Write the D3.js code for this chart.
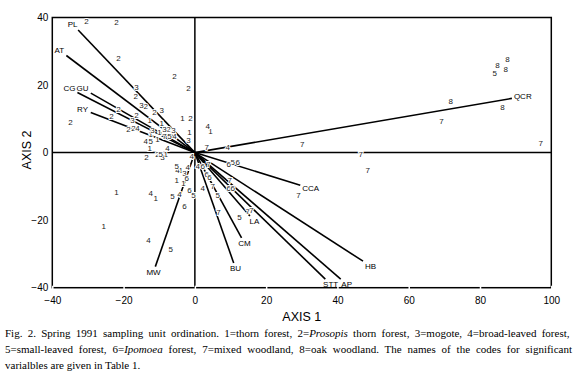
<!DOCTYPE html>
<html>
<head>
<meta charset="utf-8">
<script src="https://cdn.jsdelivr.net/npm/d3@7"></script>
<style>
body { margin: 0; background: #fff; }
svg { display: block; }
</style>
</head>
<body>
<svg id="drawing_region"></svg>
<script>
// sampling units: vegetation type code and ordination scores
const siteCode = [
  1,1,1,1,1,1,1,1,1,1,1,1,1,1,1,1,
  2,2,2,2,2,2,2,2,2,2,2,2,2,2,2,2,2,2,
  3,3,3,3,3,3,3,3,3,3,
  4,4,4,4,4,4,4,4,4,4,4,4,4,4,
  5,5,5,5,5,5,5,5,5,5,5,
  6,6,6,6,6,6,6,6,6,6,
  7,7,7,7,7,7,7,7,7,7,7,7,7,7,
  8,8,8,8,8
];
const siteAxis1 = [
  -12.7,-9.3,-3.5,-9.9,-12.4,-1.5,-10.5,-12.7,-8.2,-4.0,-5.1,-3.2,-22.0,-11.0,-25.6,4.4,
  -30.4,-22.0,-21.4,-5.7,-1.8,-16.6,-13.8,-11.3,-16.4,-23.4,-34.9,-1.2,-18.6,-17.2,-13.6,-10.5,-7.4,-21.4,
  -16.4,-15.0,-9.3,-17.5,-11.9,-8.5,-6.0,-1.8,-9.1,-2.9,
  -16.1,-5.7,-13.8,-7.7,3.6,9.2,-2.0,-4.9,0.8,2.2,-12.4,-13.0,-4.3,-0.9,
  -12.4,-7.1,-9.6,-5.1,-6.3,-0.4,-6.8,6.4,12.5,10.6,84.1,
  -1.5,-2.9,2.2,3.3,4.1,9.5,12.0,9.5,10.6,-2.3,
  3.3,3.8,5.0,9.8,6.6,14.8,15.9,29.1,30.1,46.5,48.5,69.2,97.0,-8.5,
  87.7,84.9,87.2,71.8,86.3
];
const siteAxis2 = [
  9.5,8.7,10.1,6.0,5.4,6.0,3.9,1.3,-0.5,-5.2,-8.2,-9.1,-11.8,-13.5,-21.8,6.3,
  38.8,38.5,27.9,22.5,19.0,16.7,13.7,11.9,11.0,10.7,8.9,10.1,6.9,7.2,-1.4,-0.5,6.9,12.8,
  19.3,14.0,12.5,9.5,6.6,6.9,6.6,3.6,-1.4,-6.2,
  7.2,4.8,3.3,1.3,7.8,1.6,-4.3,-5.2,-4.1,-10.5,-12.0,-26.0,-12.3,-1.1,
  3.3,4.8,-0.5,-4.1,-12.9,-12.6,-28.6,-12.6,-19.1,-2.9,23.4,
  -11.2,-15.9,-4.1,-6.4,-7.3,-3.5,-2.9,-10.6,-10.6,-7.6,
  1.6,-3.5,-10.0,-8.2,-17.7,-17.4,-17.1,-12.6,2.4,-0.5,-5.2,9.3,2.8,4.8,
  27.6,25.8,24.6,15.2,13.4
];

// significant variables (vector tips)
const varName  = ["PL","AT","CG","GU","RY","QCR","CCA","HB","STT","AP","LA","CM","BU","MW"];
const varAxis1 = [-34.3,-38.0,-35.2,-31.5,-31.5,92.0,32.5,49.3,38.1,42.6,16.7,13.9,11.4,-11.6];
const varAxis2 = [38.0,30.3,19.0,19.0,12.8,16.6,-10.6,-33.6,-39.0,-39.0,-20.3,-26.8,-34.2,-35.3];

const xTicks = [-40,-20,0,20,40,60,80,100];
const yTicks = [-40,-20,0,20,40];

const captionLines = [
  [["Fig. 2. Spring 1991 sampling unit ordination.  1=thorn forest, 2=", false], ["Prosopis", true], [" thorn forest, 3=mogote, 4=broad-leaved forest,", false]],
  [["5=small-leaved forest, 6=", false], ["Ipomoea", true], [" forest, 7=mixed woodland, 8=oak woodland. The names of the codes for significant", false]],
  [["varialbles are given in Table 1.", false]]
];

class BiPlot {
  constructor( config ){
    this.config = {
      parent: config.parent,
      width: config.width || 580,
      height: config.height || 380,
      margin: config.margin || {top:17.5, right:28.7, bottom:92.3, left:52.3}
    };
    this.init();
  }

  init(){
    let self = this;

    self.svg = d3.select( self.config.parent )
                 .attr('width', self.config.width)
                 .attr('height', self.config.height);

    self.inner_width = self.config.width - self.config.margin.left - self.config.margin.right;
    self.inner_height = self.config.height - self.config.margin.top - self.config.margin.bottom;

    self.chart = self.svg.append('g')
                     .attr('transform', `translate(${self.config.margin.left}, ${self.config.margin.top})`);

    self.xscale = d3.scaleLinear()
                    .domain([-40, 100])
                    .range([0, self.inner_width]);

    self.yscale = d3.scaleLinear()
                    .domain([-40, 40])
                    .range([self.inner_height, 0]);

    self.xaxis = d3.axisBottom( self.xscale )
                   .tickValues(xTicks)
                   .tickSizeInner(3).tickSizeOuter(0)
                   .tickPadding(6);

    self.yaxis = d3.axisLeft( self.yscale )
                   .tickValues(yTicks)
                   .tickSizeInner(0).tickSizeOuter(0)
                   .tickPadding(4);
  }

  render(){
    let self = this;
    const font = '"Liberation Sans", Arial, sans-serif';

    // frame
    self.chart.append('rect')
        .attr('width', self.inner_width)
        .attr('height', self.inner_height)
        .attr('fill', 'none')
        .attr('stroke', '#000')
        .attr('stroke-width', 1.5);

    // axes through the origin
    self.chart.append('line')
        .attr('x1', self.xscale(0)).attr('x2', self.xscale(0))
        .attr('y1', 0).attr('y2', self.inner_height)
        .attr('stroke', '#000').attr('stroke-width', 1.5);
    self.chart.append('line')
        .attr('x1', 0).attr('x2', self.inner_width)
        .attr('y1', self.yscale(0)).attr('y2', self.yscale(0))
        .attr('stroke', '#000').attr('stroke-width', 1.5);

    const xg = self.chart.append('g')
        .attr('transform', `translate(0, ${self.inner_height})`)
        .call(self.xaxis);
    const yg = self.chart.append('g').call(self.yaxis);

    [xg, yg].forEach(g => {
      g.select('.domain').remove();
      g.selectAll('text')
       .attr('font-family', font)
       .attr('font-size', 10)
       .attr('fill', '#000');
    });
    // little white notches in the bottom line
    xg.selectAll('.tick line')
      .attr('y1', -2).attr('y2', 2)
      .attr('stroke', '#fff').attr('stroke-width', 1.5);

    // variable vectors
    const vars = varName.map((n, i) => ({name: n, x: varAxis1[i], y: varAxis2[i]}));
    const vg = self.chart.append('g');
    const ox = self.xscale(0), oy = self.yscale(0);

    vars.forEach(d => {
      const cx = self.xscale(d.x), cy = self.yscale(d.y);
      const label = vg.append('text')
          .attr('x', cx).attr('y', cy)
          .attr('dy', '0.35em')
          .attr('text-anchor', 'middle')
          .attr('font-family', font)
          .attr('font-size', 8)
          .text(d.name);
      const b = label.node().getBBox();
      const pad = 2;
      const x0 = b.x - pad, x1 = b.x + b.width + pad;
      const y0 = b.y - pad + 1, y1 = b.y + b.height + pad - 1;
      const tx = cx > ox ? (x0 - ox) / (cx - ox) : (x1 - ox) / (cx - ox);
      const ty = cy > oy ? (y0 - oy) / (cy - oy) : (y1 - oy) / (cy - oy);
      const t = Math.max(tx, ty);
      vg.insert('line', 'text')
        .attr('x1', ox).attr('y1', oy)
        .attr('x2', ox + t * (cx - ox))
        .attr('y2', oy + t * (cy - oy))
        .attr('stroke', '#000')
        .attr('stroke-width', 1.6);
    });

    // sampling units
    const sites = siteCode.map((c, i) => ({code: c, x: siteAxis1[i], y: siteAxis2[i]}));
    self.chart.append('g')
        .selectAll('text')
        .data(sites)
        .join('text')
        .attr('x', d => self.xscale(d.x))
        .attr('y', d => self.yscale(d.y))
        .attr('dy', '0.35em')
        .attr('text-anchor', 'middle')
        .attr('font-family', font)
        .attr('font-size', 8)
        .attr('fill', '#222')
        .attr('stroke', '#fff')
        .attr('stroke-width', 2)
        .attr('paint-order', 'stroke')
        .text(d => d.code);

    // axis titles
    self.svg.append('text')
        .attr('x', self.config.margin.left + self.inner_width / 2)
        .attr('y', 320.5)
        .attr('text-anchor', 'middle')
        .attr('font-family', font)
        .attr('font-size', 12.5)
        .text('AXIS 1');

    self.svg.append('text')
        .attr('transform', `translate(31, 150) rotate(-90)`)
        .attr('text-anchor', 'middle')
        .attr('font-family', font)
        .attr('font-size', 12.5)
        .text('AXIS 2');

    // caption, first two lines justified
    const left = 5, right = 572;
    captionLines.forEach((parts, i) => {
      const t = self.svg.append('text')
          .attr('x', left)
          .attr('y', 336.5 + i * 16)
          .attr('font-family', '"Liberation Serif", "Times New Roman", serif')
          .attr('font-size', 11);
      parts.forEach(p => {
        t.append('tspan')
         .attr('font-style', p[1] ? 'italic' : null)
         .text(p[0]);
      });
      if (i < captionLines.length - 1) {
        const natural = t.node().getComputedTextLength();
        const spaces = parts.map(p => p[0]).join('').split(' ').length - 1;
        t.attr('word-spacing', (right - left - natural) / spaces);
      }
    });
  }
}

const biplot = new BiPlot({
  parent: '#drawing_region',
  width: 580,
  height: 380,
  margin: {top:17.5, right:28.7, bottom:92.3, left:52.3}
});
biplot.render();
</script>
</body>
</html>
